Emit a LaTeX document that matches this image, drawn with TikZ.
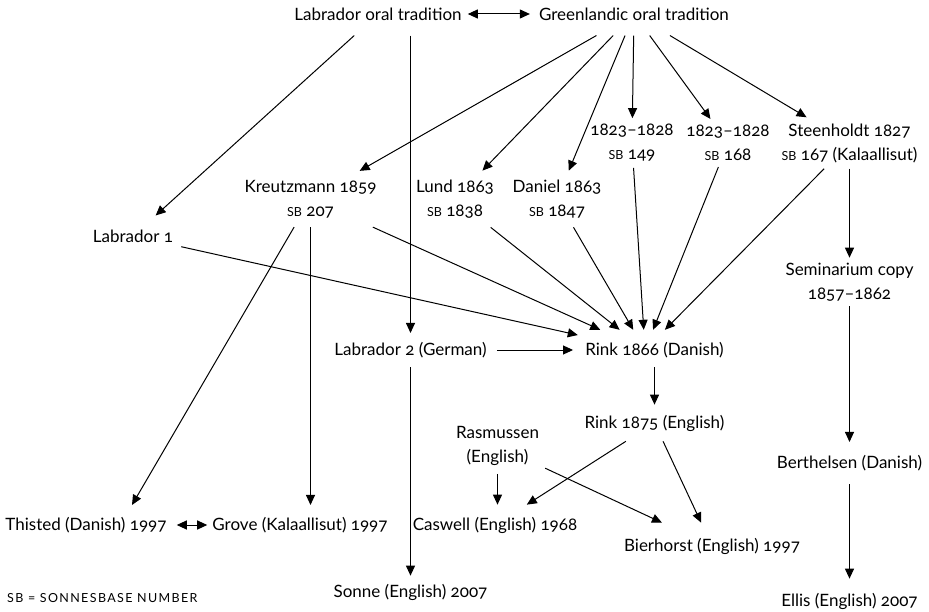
\documentclass[tikz,border=0pt]{standalone}
\usepackage{fontspec}
\setmainfont{Lato}[Numbers=OldStyle]
\newfontfamily\legendfont{Lato}[LetterSpace=11]
\usetikzlibrary{arrows.meta}
\newcommand\SBtag{{\fontsize{12.5pt}{12.5pt}\selectfont SB}}
\begin{document}
\begin{tikzpicture}[x=1pt,y=-1pt,
  lbl/.style={font=\fontsize{17pt}{24pt}\selectfont, align=center, inner xsep=6pt, inner ysep=10pt},
  arr/.style={line width=1pt, -{Triangle[width=9pt,length=10pt]}},
  dbl/.style={line width=1pt, {Triangle[width=9pt,length=10pt]}-{Triangle[width=9pt,length=10pt]}},
  hubstyle/.style={inner sep=0pt, minimum width=134pt, minimum height=40pt}
]
\useasboundingbox[fill=white] (0,0) rectangle (929,612);

% top
\node[lbl, inner ysep=15pt, inner xsep=6pt] (lot) at (378,14) {Labrador oral tradition};
\node[lbl, inner ysep=15pt, inner xsep=9pt] (got) at (634,14) {Greenlandic oral tradition};

% second rows
\node[lbl, inner ysep=9pt] (kre) at (310.5,199) {Kreutzmann 1859\\\SBtag{} 207};
\node[lbl, inner ysep=9pt] (lund) at (455,199) {Lund 1863\\\SBtag{} 1838};
\node[lbl, inner ysep=9pt] (dan) at (557,199) {Daniel 1863\\\SBtag{} 1847};
\node[lbl, inner ysep=6pt] (d1) at (632,143) {1823--1828\\\SBtag{} 149};
\node[lbl, inner ysep=6pt] (d2) at (728,143) {1823--1828\\\SBtag{} 168};
\node[lbl, inner ysep=6pt] (ste) at (849.5,143) {Steenholdt 1827\\\SBtag{} 167 (Kalaallisut)};

\node[lbl, inner ysep=14pt, inner xsep=8pt] (lab1) at (133,236) {Labrador 1};
\node[lbl, inner ysep=5pt] (sem) at (849.5,282) {Seminarium copy\\1857--1862};

\node[lbl, inner ysep=9pt, inner xsep=10pt] (lab2) at (410.5,350) {Labrador 2 (German)};
\node[lbl, inner ysep=9pt, inner xsep=12pt] (r66) at (654.5,350) {Rink 1866 (Danish)};
\node[hubstyle] (hub) at (645,350) {};
\node[lbl, inner ysep=10pt] (r75) at (654.5,423) {Rink 1875 (English)};
\node[lbl, inner ysep=8pt] (ras) at (497.5,446) {Rasmussen\\(English)};
\node[lbl, inner ysep=13pt] (ber) at (849.5,463) {Berthelsen (Danish)};

\node[lbl, inner ysep=12pt, inner xsep=10pt] (thi) at (86,525) {Thisted (Danish) 1997};
\node[lbl, inner ysep=12pt, inner xsep=5pt] (gro) at (300,525) {Grove (Kalaallisut) 1997};
\node[lbl, inner ysep=12pt] (cas) at (495,525) {Caswell (English) 1968};
\node[lbl, inner ysep=15pt] (bie) at (712,546) {Bierhorst (English) 1997};

\node[lbl, inner ysep=8pt] (son) at (410.5,592) {Sonne (English) 2007};
\node[lbl, inner ysep=14pt] (ell) at (849.5,601) {Ellis (English) 2007};
\node[anchor=west, inner sep=0pt, font=\legendfont\fontsize{12.5pt}{14pt}\selectfont] (leg) at (7,598) {SB = SONNESBASE NUMBER};

\coordinate (thiT) at ([xshift=46pt]thi.north);

% connectors
\draw[dbl] (lot) -- (got);
\draw[arr] (lot) -- (lab1);
\draw[arr] (lot.south -| lab2) -- (lab2);
\foreach \t in {kre,lund,dan,d1,d2,ste} \draw[arr] (got) -- (\t);
\foreach \s in {lab1,kre,lund,dan,d1,d2,ste} \draw[arr] (\s) -- (hub);
\draw[arr] (ste) -- (sem);
\draw[arr] (sem) -- (ber);
\draw[arr] (ber) -- (ell);
\draw[arr] (lab2) -- (r66);
\draw[arr] (lab2) -- (son);
\draw[arr] (r66) -- (r75);
\draw[arr] (r75) -- (cas);
\draw[arr] (r75) -- (bie);
\draw[arr] (ras) -- (ras |- cas.north);
\draw[arr] (ras) -- (bie);
\draw[arr] (kre) -- (thiT);
\draw[arr] (kre.south) -- (kre.south |- gro.north);
\draw[dbl] (thi) -- (gro);
\end{tikzpicture}
\end{document}
